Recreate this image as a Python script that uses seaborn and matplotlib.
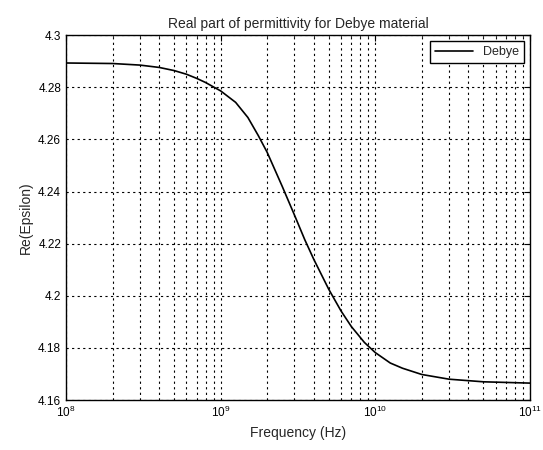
import matplotlib
matplotlib.use("Agg")
import matplotlib.pyplot as plt
import seaborn as sns
import pandas as pd
import numpy as np
from matplotlib.ticker import LogLocator, FixedLocator, FixedFormatter, NullFormatter

# Data
freq_hz = [1e8, 2e8, 3e8, 4e8, 5e8, 6e8, 7e8, 8e8, 9e8, 1e9, 1.25e9, 1.5e9,
           1.75e9, 2e9, 2.5e9, 3e9, 3.5e9, 4e9, 5e9, 6e9, 7e9, 8.5e9, 1e10,
           1.25e10, 1.5e10, 2e10, 3e10, 5e10, 1e11]
re_eps = [4.2893, 4.2891, 4.2885, 4.2876, 4.2864, 4.2850, 4.2834, 4.2818,
          4.2801, 4.2786, 4.2742, 4.2684, 4.2615, 4.2550, 4.2420, 4.2310,
          4.2215, 4.2140, 4.2025, 4.1942, 4.1882, 4.1821, 4.1782, 4.1742,
          4.1722, 4.1698, 4.1680, 4.1670, 4.1665]
series_name = "Debye"

y_ticks = [4.16, 4.18, 4.2, 4.22, 4.24, 4.26, 4.28, 4.3]
y_tick_labels = ["4.16", "4.18", "4.2", "4.22", "4.24", "4.26", "4.28", "4.3"]

df = pd.DataFrame({"Frequency": freq_hz, "ReEps": re_eps, "Series": series_name})

sns.set_style("white")
plt.rcParams["font.family"] = ["Liberation Sans", "DejaVu Sans"]
plt.rcParams["mathtext.fontset"] = "custom"
plt.rcParams["mathtext.rm"] = "Liberation Sans"

fig = plt.figure(figsize=(5.43, 4.5), dpi=100)
ax = fig.add_axes([0.1215, 0.111, 0.976 - 0.1215, 0.922 - 0.111])

sns.lineplot(data=df, x="Frequency", y="ReEps", hue="Series",
             palette=["black"], linewidth=1.2, ax=ax)

ax.set_xscale("log")
ax.set_xlim(1e8, 1e11)
ax.set_ylim(4.16, 4.3)

ax.xaxis.set_major_locator(LogLocator(base=10, numticks=10))
ax.xaxis.set_minor_locator(LogLocator(base=10, subs=np.arange(2, 10), numticks=20))
ax.xaxis.set_minor_formatter(NullFormatter())
ax.yaxis.set_major_locator(FixedLocator(y_ticks))
ax.yaxis.set_major_formatter(FixedFormatter(y_tick_labels))

ax.grid(True, which="major", axis="both", color="black", linestyle=(0, (2, 3)), linewidth=0.8)
ax.grid(True, which="minor", axis="x", color="black", linestyle=(0, (2, 3)), linewidth=0.8)

for s in ax.spines.values():
    s.set_color("black")
    s.set_linewidth(1.0)

ax.tick_params(axis="both", which="major", direction="in", length=4, labelsize=8.5,
               colors="black", top=True, right=True)
ax.tick_params(axis="x", which="minor", direction="in", length=2, top=True)

ax.set_title("Real part of permittivity for Debye material", fontsize=10, pad=5)
ax.set_xlabel("Frequency (Hz)", fontsize=10)
ax.set_ylabel("Re(Epsilon)", fontsize=10)

leg = ax.legend(loc="upper right", fontsize=9, frameon=True, fancybox=False,
                edgecolor="black", handlelength=3, borderaxespad=0.5)
leg.get_frame().set_linewidth(1.0)
leg.get_frame().set_alpha(1.0)
leg.set_title(None)

fig.savefig("out.png", dpi=100)
